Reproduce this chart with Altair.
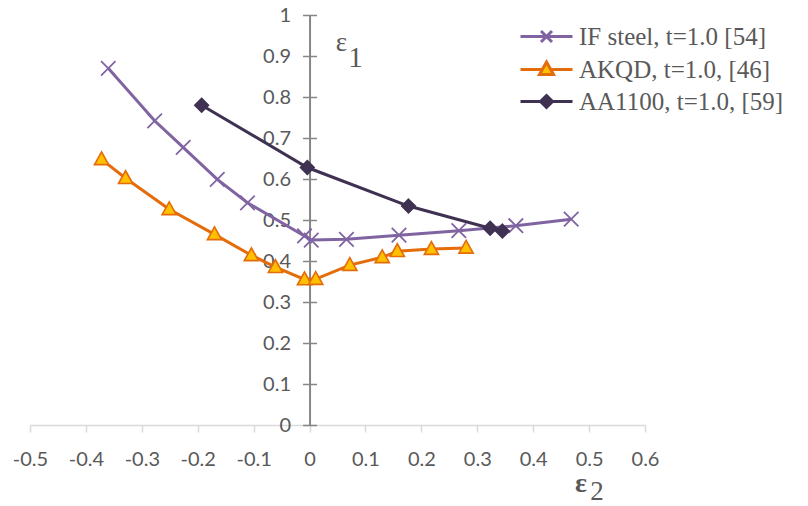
import altair as alt
import pandas as pd

# Series names
series_names = ["IF steel, t=1.0 [54]", "AKQD, t=1.0, [46]", "AA1100, t=1.0, [59]"]

# IF steel: minor strain e2 / major strain e1
if_e2 = [-0.360, -0.277, -0.226, -0.165, -0.111, -0.009, 0.003, 0.066, 0.160, 0.267, 0.369, 0.468]
if_e1 = [0.870, 0.742, 0.677, 0.599, 0.542, 0.461, 0.451, 0.453, 0.463, 0.474, 0.486, 0.502]

# AKQD
akqd_e2 = [-0.372, -0.329, -0.251, -0.170, -0.104, -0.061, -0.009, 0.011, 0.072, 0.130, 0.157, 0.218, 0.280]
akqd_e1 = [0.648, 0.602, 0.526, 0.465, 0.414, 0.385, 0.355, 0.356, 0.390, 0.409, 0.424, 0.429, 0.432]

# AA1100
aa_e2 = [-0.193, -0.004, 0.177, 0.323, 0.345]
aa_e1 = [0.780, 0.628, 0.534, 0.480, 0.473]

x_ticks = [-0.5, -0.4, -0.3, -0.2, -0.1, 0, 0.1, 0.2, 0.3, 0.4, 0.5, 0.6]
y_ticks = [0, 0.1, 0.2, 0.3, 0.4, 0.5, 0.6, 0.7, 0.8, 0.9, 1]

axis_symbol = ["ε"]
y_subscript = ["1"]
x_subscript = ["2"]

line_colors = ["#8064A2", "#E46C0A", "#3F3151"]
marker_fills = ["transparent", "#FFC000", "#3F3151"]

# marker shapes (unit-square SVG paths)
marker_paths = [
    "M-1,-1L1,1M-1,1L1,-1",
    "M0,-1.05L1,0.75L-1,0.75Z",
    "M0,-1L1,0L0,1L-1,0Z",
]
marker_sizes = [210, 190, 160]
marker_widths = [1.8, 1.5, 1]

# legend symbols: a line segment through the marker
legend_paths = [
    "M-2.6,0H2.6M-0.55,-0.55L0.55,0.55M-0.55,0.55L0.55,-0.55",
    "M-2.6,0H-0.42M0.42,0H2.6M0,-0.75L0.7,0.5L-0.7,0.5Z",
    "M-2.6,0H2.6M0,-0.6L0.6,0L0,0.6L-0.6,0Z",
]

rows = []
for name, xs, ys in zip(series_names, [if_e2, akqd_e2, aa_e2], [if_e1, akqd_e1, aa_e1]):
    for i, (a, b) in enumerate(zip(xs, ys)):
        rows.append({"series": name, "e2": a, "e1": b, "i": i})
df = pd.DataFrame(rows)

W, H = 615, 410
x_dom = [-0.5, 0.6]
zero_px = W * (0 - x_dom[0]) / (x_dom[1] - x_dom[0])

x_scale = alt.Scale(domain=x_dom, nice=False, zero=False)
y_scale = alt.Scale(domain=[0, 1], nice=False)

label_style = dict(labelFont="Lato", labelFontSize=20, labelColor="#595959")

x_axis = alt.Axis(
    values=x_ticks, labelExpr="'' + datum.value", title=None, grid=False,
    domainColor="#D9D9D9", domainWidth=1.5, tickColor="#D9D9D9", tickSize=7,
    tickWidth=1.5, labelPadding=17, labelFlush=False, labelOverlap=False,
    **label_style,
)
y_axis_left = alt.Axis(
    values=y_ticks, format="~g", title=None, grid=False, offset=-zero_px,
    domainColor="#868686", domainWidth=2, tickColor="#868686", tickSize=7,
    tickWidth=1.5, labelPadding=12, labelOverlap=False, **label_style,
)
y_axis_right = alt.Axis(
    values=y_ticks, orient="right", labels=False, title=None, grid=False,
    offset=-(W - zero_px), domain=False, tickColor="#868686", tickSize=7,
    tickWidth=1.5,
)

base = alt.Chart(df)

lines = base.mark_line(strokeWidth=3).encode(
    x=alt.X("e2:Q", scale=x_scale, axis=x_axis),
    y=alt.Y("e1:Q", scale=y_scale, axis=y_axis_left),
    color=alt.Color("series:N", scale=alt.Scale(domain=series_names, range=line_colors), legend=None),
    order="i:Q",
)

markers = base.mark_point(filled=True, opacity=1).encode(
    x=alt.X("e2:Q", scale=x_scale, axis=x_axis),
    y=alt.Y("e1:Q", scale=y_scale, axis=y_axis_right),
    shape=alt.Shape("series:N", scale=alt.Scale(domain=series_names, range=marker_paths), legend=None),
    stroke=alt.Stroke("series:N", scale=alt.Scale(domain=series_names, range=line_colors), legend=None),
    fill=alt.Fill("series:N", scale=alt.Scale(domain=series_names, range=marker_fills), legend=None),
    size=alt.Size("series:N", scale=alt.Scale(domain=series_names, range=marker_sizes), legend=None),
    strokeWidth=alt.StrokeWidth("series:N", scale=alt.Scale(domain=series_names, range=marker_widths), legend=None),
)

legend = alt.Legend(
    orient="none", legendX=504, legendY=9, title=None, padding=0,
    labelFont="Liberation Serif", labelFontSize=25, labelColor="#595959",
    labelLimit=0, symbolSize=400, symbolStrokeWidth=3, labelOffset=20, rowPadding=6,
)

legend_layer = base.mark_point(filled=True, opacity=1, strokeWidth=3).encode(
    shape=alt.Shape("series:N", scale=alt.Scale(domain=series_names, range=legend_paths), legend=legend),
    stroke=alt.Stroke("series:N", scale=alt.Scale(domain=series_names, range=line_colors), legend=legend),
    fill=alt.Fill("series:N", scale=alt.Scale(domain=series_names, range=marker_fills), legend=legend),
).transform_filter("false")

serif = "Liberation Serif"
t_eps1 = alt.Chart(pd.DataFrame({"t": axis_symbol})).mark_text(
    font=serif, fontSize=27, color="#595959", align="center", baseline="middle"
).encode(text="t:N", x=alt.value(zero_px + 32), y=alt.value(28))
t_sub1 = alt.Chart(pd.DataFrame({"t": y_subscript})).mark_text(
    font=serif, fontSize=29, color="#595959", align="center", baseline="middle"
).encode(text="t:N", x=alt.value(zero_px + 46), y=alt.value(43))
t_eps2 = alt.Chart(pd.DataFrame({"t": axis_symbol})).mark_text(
    font=serif, fontSize=28, fontWeight="bold", color="#595959", align="center", baseline="middle"
).encode(text="t:N", x=alt.value(551), y=alt.value(469))
t_sub2 = alt.Chart(pd.DataFrame({"t": x_subscript})).mark_text(
    font=serif, fontSize=27, color="#595959", align="center", baseline="middle"
).encode(text="t:N", x=alt.value(567), y=alt.value(477))

chart = alt.layer(
    lines, markers, legend_layer, t_eps1, t_sub1, t_eps2, t_sub2
).resolve_scale(
    shape="independent", stroke="independent", fill="independent"
).resolve_axis(
    y="independent"
).properties(
    width=W, height=H,
    autosize=alt.AutoSizeParams(type="none"),
    padding={"left": 30, "top": 15, "right": 808 - 30 - W, "bottom": 506 - 15 - H},
    background="white",
).configure_view(stroke=None)

chart.save("out.html", embed_options={"renderer": "svg", "actions": False})
